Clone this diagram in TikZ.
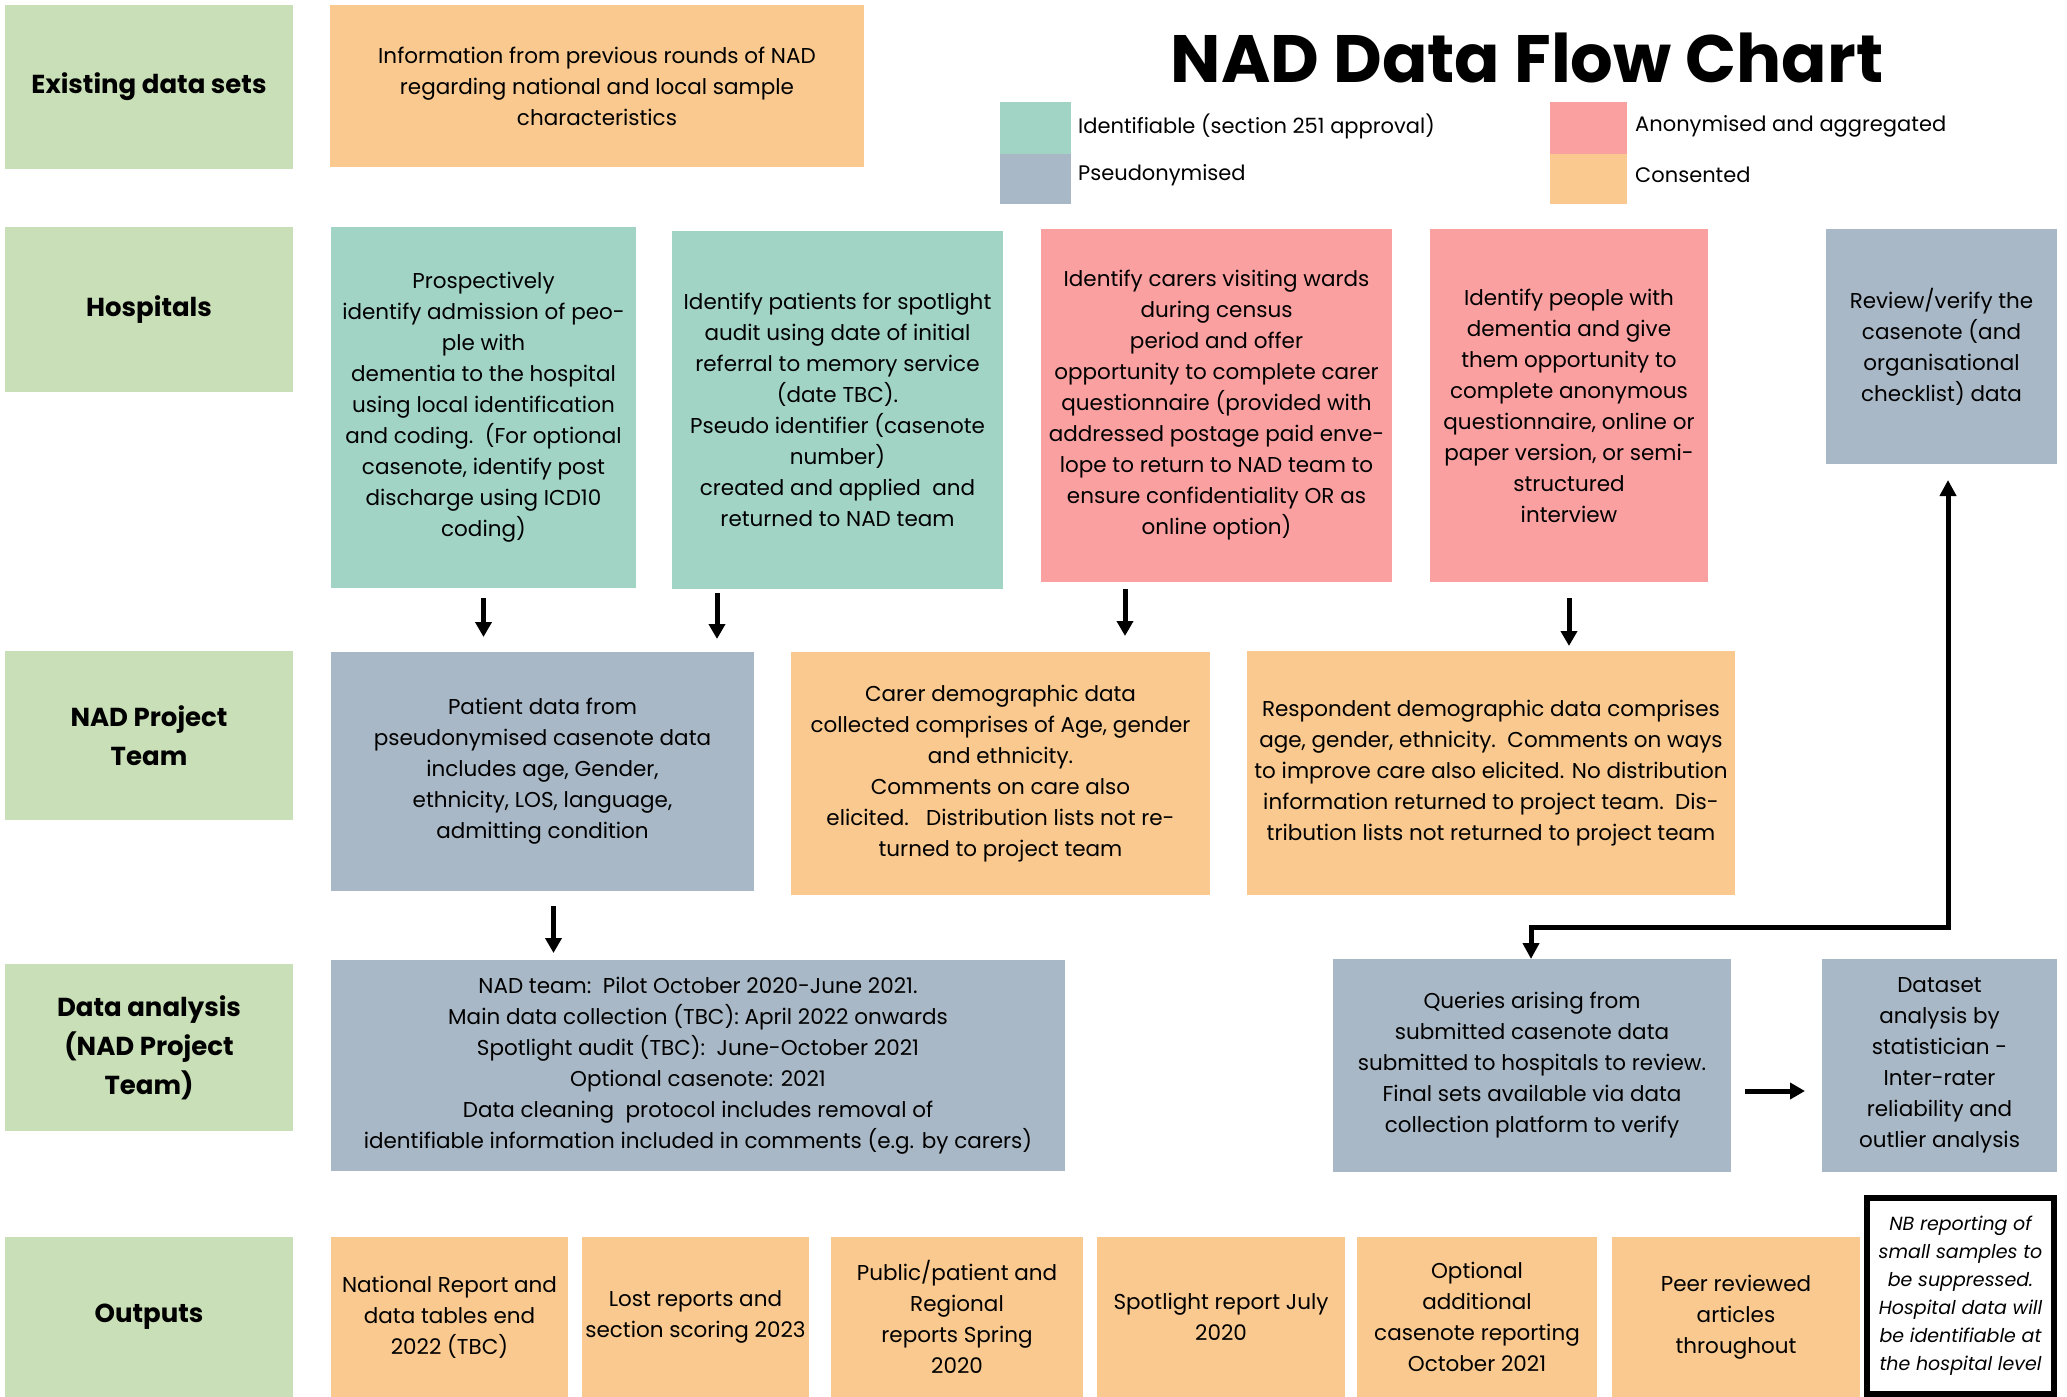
\documentclass[tikz,border=0pt]{standalone}
\usepackage{fontspec}
\setmainfont{Poppins}
\usetikzlibrary{arrows.meta}
\definecolor{cgreen}{HTML}{C9DFB8}
\definecolor{cteal}{HTML}{A2D4C6}
\definecolor{cgrey}{HTML}{A9B8C6}
\definecolor{cpink}{HTML}{FBA0A0}
\definecolor{corange}{HTML}{F9C990}
\newcommand\bx[7]{\node[#2,anchor=north west,minimum width={#5-#3},minimum height={#6-#4}] (#1) at (#3,#4) {#7};}
\begin{document}
\begin{tikzpicture}[x=1pt,y=-1pt,
  base/.style={inner sep=0pt,outer sep=0pt,align=center,font=\fontsize{21.5}{31}\selectfont},
  lbl/.style={base,fill=cgreen,font=\bfseries\fontsize{26}{39}\selectfont},
  tealbox/.style={base,fill=cteal},
  greybox/.style={base,fill=cgrey},
  pinkbox/.style={base,fill=cpink},
  orangebox/.style={base,fill=corange},
  nbbox/.style={base,draw=black,line width=6pt,fill=white,font=\itshape\fontsize{19}{28}\selectfont},
  legtext/.style={inner sep=0pt,anchor=west,font=\fontsize{21}{24}\selectfont},
  arr/.style={line width=5pt,-{Triangle[length=15pt,width=16pt]}},
  darr/.style={line width=5pt,{Triangle[length=16pt,width=16pt]}-{Triangle[length=16pt,width=16pt]}}
]
\useasboundingbox (0,0) rectangle (2067,1397);
\fill[white] (0,0) rectangle (2067,1397);

% row labels
\bx{lex}{lbl}{5}{5}{293}{169}{Existing data sets}
\bx{lhos}{lbl}{5}{227}{293}{392}{Hospitals}
\bx{lnad}{lbl}{5}{651}{293}{820}{NAD Project\\Team}
\bx{lda}{lbl}{5}{964}{293}{1131}{Data analysis\\(NAD Project\\Team)}
\bx{lout}{lbl}{5}{1237}{293}{1397}{Outputs}

% existing data
\bx{info}{orangebox}{330}{5}{864}{167}{Information from previous rounds of NAD\\regarding national and local sample\\characteristics}

% title and legend
\node[inner sep=0pt,anchor=base,font=\bfseries\fontsize{67}{78}\selectfont] (title) at (1527,82) {NAD Data Flow Chart};
\bx{lg1}{tealbox}{1000}{102}{1071}{154}{}
\bx{lg2}{greybox}{1000}{154}{1071}{204}{}
\bx{lg3}{pinkbox}{1550}{102}{1627}{154}{}
\bx{lg4}{orangebox}{1550}{154}{1627}{204}{}
\node[legtext] (lt1) at ([xshift=7pt,yshift=2pt]lg1.east) {Identifiable (section 251 approval)};
\node[legtext] (lt2) at ([xshift=7pt,yshift=4pt]lg2.east) {Pseudonymised};
\node[legtext] (lt3) at ([xshift=8pt,yshift=2pt]lg3.east) {Anonymised and aggregated};
\node[legtext] (lt4) at ([xshift=8pt,yshift=4pt]lg4.east) {Consented};

% hospitals
\bx{h1}{tealbox}{331}{227}{636}{588}{Prospectively\\identify admission of peo-\\ple with\\dementia to the hospital\\using local identification\\and coding.\ \ (For optional\\casenote, identify post\\discharge using ICD10\\coding)}
\bx{h2}{tealbox}{672}{231}{1003}{589}{Identify patients for spotlight\\audit using date of initial\\referral to memory service\\(date TBC).\\Pseudo identifier (casenote\\number)\\created and applied\ \ and\\returned to NAD team}
\bx{h3}{pinkbox}{1041}{229}{1392}{582}{Identify carers visiting wards\\during census\\period and offer\\opportunity to complete carer\\questionnaire (provided with\\addressed postage paid enve-\\lope to return to NAD team to\\ensure confidentiality OR as\\online option)}
\bx{h4}{pinkbox}{1430}{229}{1708}{582}{Identify people with\\dementia and give\\them opportunity to\\complete anonymous\\questionnaire, online or\\paper version, or semi-\\structured\\interview}
\bx{h5}{greybox}{1826}{229}{2057}{464}{Review/verify the\\casenote (and\\organisational\\checklist) data}

% NAD project team
\bx{n1}{greybox}{331}{652}{754}{891}{Patient data from\\pseudonymised casenote data\\includes age, Gender,\\ethnicity, LOS, language,\\admitting condition}
\bx{n2}{orangebox}{791}{652}{1210}{895}{Carer demographic data\\collected comprises of Age, gender\\and ethnicity.\\Comments on care also\\elicited.\ \ \ Distribution lists not re-\\turned to project team}
\bx{n3}{orangebox}{1247}{651}{1735}{895}{Respondent demographic data comprises\\age, gender, ethnicity.\ \ Comments on ways\\to improve care also elicited. No distribution\\information returned to project team.\ \ Dis-\\tribution lists not returned to project team}

% data analysis
\bx{d1}{greybox}{331}{960}{1065}{1171}{NAD team:\ \ Pilot October 2020-June 2021.\\Main data collection (TBC): April 2022 onwards\\Spotlight audit (TBC):\ \ June-October 2021\\Optional casenote: 2021\\Data cleaning\ \ protocol includes removal of\\identifiable information included in comments (e.g. by carers)}
\bx{d2}{greybox}{1333}{959}{1731}{1172}{Queries arising from\\submitted casenote data\\submitted to hospitals to review.\\Final sets available via data\\collection platform to verify}
\bx{d3}{greybox}{1822}{959}{2057}{1172}{Dataset\\analysis by\\statistician -\\Inter-rater\\reliability and\\outlier analysis}

% outputs
\bx{o1}{orangebox}{331}{1237}{568}{1397}{National Report and\\data tables end\\2022 (TBC)}
\bx{o2}{orangebox}{582}{1237}{809}{1397}{Lost reports and\\section scoring 2023}
\bx{o3}{orangebox}{831}{1237}{1083}{1397}{Public/patient and\\Regional\\reports Spring\\2020}
\bx{o4}{orangebox}{1097}{1237}{1345}{1397}{Spotlight report July\\2020}
\bx{o5}{orangebox}{1357}{1237}{1597}{1397}{Optional\\additional\\casenote reporting\\October 2021}
\bx{o6}{orangebox}{1612}{1237}{1860}{1397}{Peer reviewed\\articles\\throughout}
\bx{nb}{nbbox}{1867}{1198}{2054}{1394}{NB reporting of\\small samples to\\be suppressed.\\Hospital data will\\be identifiable at\\the hospital level}

% connectors
\draw[arr,shorten <=10pt,shorten >=15pt] (h1.south) -- (h1.south |- n1.north);
\coordinate (a2) at ([xshift=45pt]h2.south west);
\draw[arr,shorten <=4pt,shorten >=13pt] (a2) -- (a2 |- n1.north);
\coordinate (a3) at ([xshift=84pt]h3.south west);
\draw[arr,shorten <=7pt,shorten >=16pt] (a3) -- (a3 |- n2.north);
\draw[arr,shorten <=16pt,shorten >=5pt] (h4.south) -- (h4.south |- n3.north);
\coordinate (a5) at ([xshift=11pt]n1.south);
\draw[arr,shorten <=15pt,shorten >=7pt] (a5) -- (a5 |- d1.north);
\coordinate (e1) at ([xshift=6.5pt]h5.south);
\coordinate (e2) at ([xshift=198pt]d2.north west);
\draw[darr,shorten <=16pt] (e1) -- ++(0,463) -| (e2);
\coordinate (ar) at ([yshift=-25.5pt]d2.east);
\draw[arr,shorten <=14pt,shorten >=17pt] (ar) -- (ar -| d3.west);
\end{tikzpicture}
\end{document}
